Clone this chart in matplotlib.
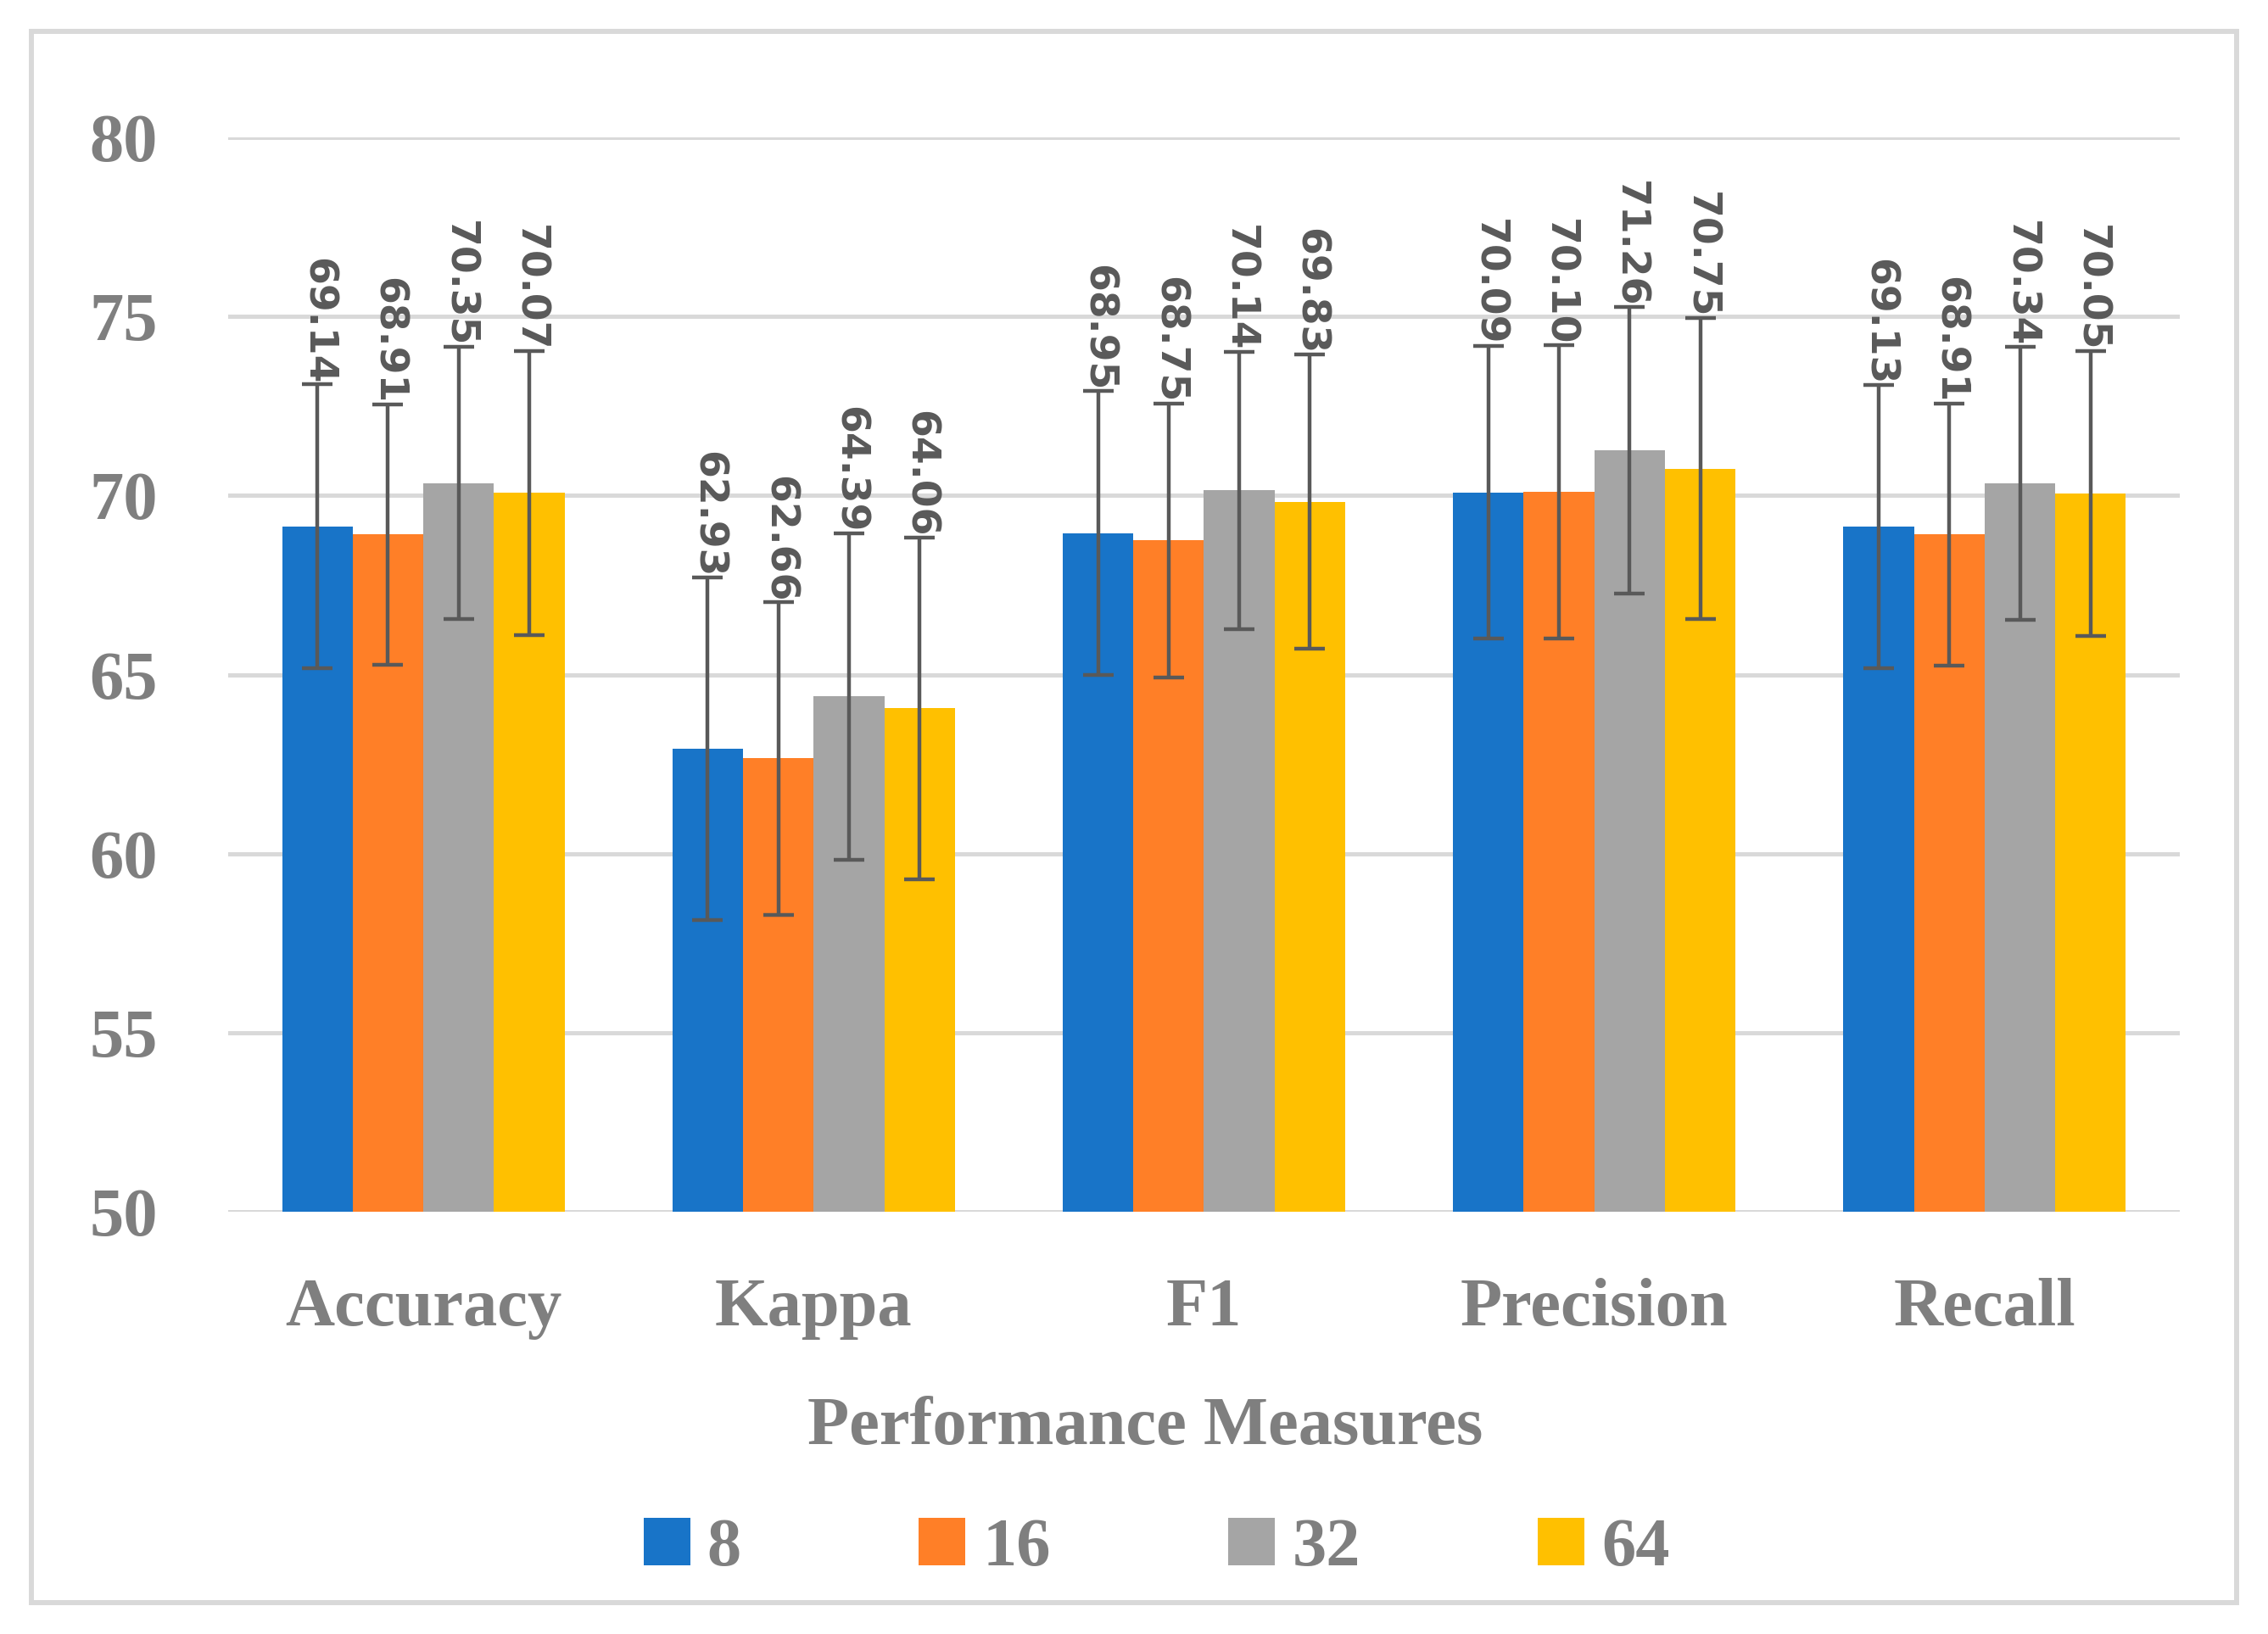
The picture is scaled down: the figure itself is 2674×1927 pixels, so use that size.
import numpy as np
import matplotlib.pyplot as plt
from matplotlib.patches import Rectangle

# Data
categories = ["Accuracy", "Kappa", "F1", "Precision", "Recall"]
series_names = ["8", "16", "32", "64"]
vals_8 = [69.14, 62.93, 68.95, 70.09, 69.13]
vals_16 = [68.91, 62.66, 68.75, 70.10, 68.91]
vals_32 = [70.35, 64.39, 70.14, 71.26, 70.34]
vals_64 = [70.07, 64.06, 69.83, 70.75, 70.05]
err_8 = [3.96, 4.78, 3.96, 4.09, 3.96]
err_16 = [3.64, 4.36, 3.82, 4.10, 3.66]
err_32 = [3.80, 4.56, 3.88, 4.00, 3.81]
err_64 = [3.96, 4.77, 4.11, 4.20, 3.98]

values = [vals_8, vals_16, vals_32, vals_64]
errors = [err_8, err_16, err_32, err_64]
colors = ["#1874C8", "#FF7F27", "#A5A5A5", "#FFC000"]

serif = "Liberation Serif"
text_gray = "#7F7F7F"
label_gray = "#595959"
grid_gray = "#D9D9D9"

fig = plt.figure(figsize=(26.74, 19.27), dpi=100)
ax = fig.add_axes([0.1006, 0.2584, 0.8605, 0.6575])

x = np.arange(len(categories))
w = 0.181
for j, (vals, errs) in enumerate(zip(values, errors)):
    pos = x + (j - 1.5) * w
    ax.bar(pos, vals, width=w, color=colors[j], label=series_names[j], zorder=2)
    ax.errorbar(pos, vals, yerr=errs, fmt="none", ecolor=label_gray,
                elinewidth=3.2, capsize=13, capthick=3.2, zorder=3)
    # value labels, rotated, sitting on top of the error bar cap
    for p, v, e in zip(pos, vals, errs):
        ax.text(p, v + e, f"{v:.2f}", rotation=-90, ha="center", va="bottom",
                fontsize=34, fontweight="bold", color=label_gray,
                family="DejaVu Sans", zorder=4)

ax.set_xlim(-0.5, len(categories) - 0.5)
ax.set_ylim(50, 80)
ax.set_yticks(np.arange(50, 81, 5))
ax.set_xticks(x)
ax.set_xticklabels(categories)
ax.grid(axis="y", color=grid_gray, linewidth=3.6, zorder=0)
ax.set_axisbelow(True)
for s in ax.spines.values():
    s.set_visible(False)
ax.tick_params(axis="both", length=0, labelsize=58, labelcolor=text_gray)
ax.tick_params(axis="y", pad=60)
ax.tick_params(axis="x", pad=56)
for t in ax.get_xticklabels() + ax.get_yticklabels():
    t.set_family(serif)
    t.set_fontweight("bold")

fig.text(0.505, 0.1162, "Performance Measures", ha="center", va="baseline",
         fontsize=58, fontweight="bold", color=text_gray, family=serif)

leg = fig.legend(loc="center", bbox_to_anchor=(0.510, 0.052), ncol=4,
                 frameon=False, handlelength=0.68, handleheight=0.68,
                 handletextpad=0.25, columnspacing=2.6,
                 prop={"family": serif, "size": 58, "weight": "bold"})
for t in leg.get_texts():
    t.set_color(text_gray)

# light grey outer frame
fig.patches.append(Rectangle((0.0138, 0.0192), 0.9723, 0.9616, transform=fig.transFigure,
                             fill=False, edgecolor=grid_gray, linewidth=4.3))

fig.savefig("out.png", dpi=100)
